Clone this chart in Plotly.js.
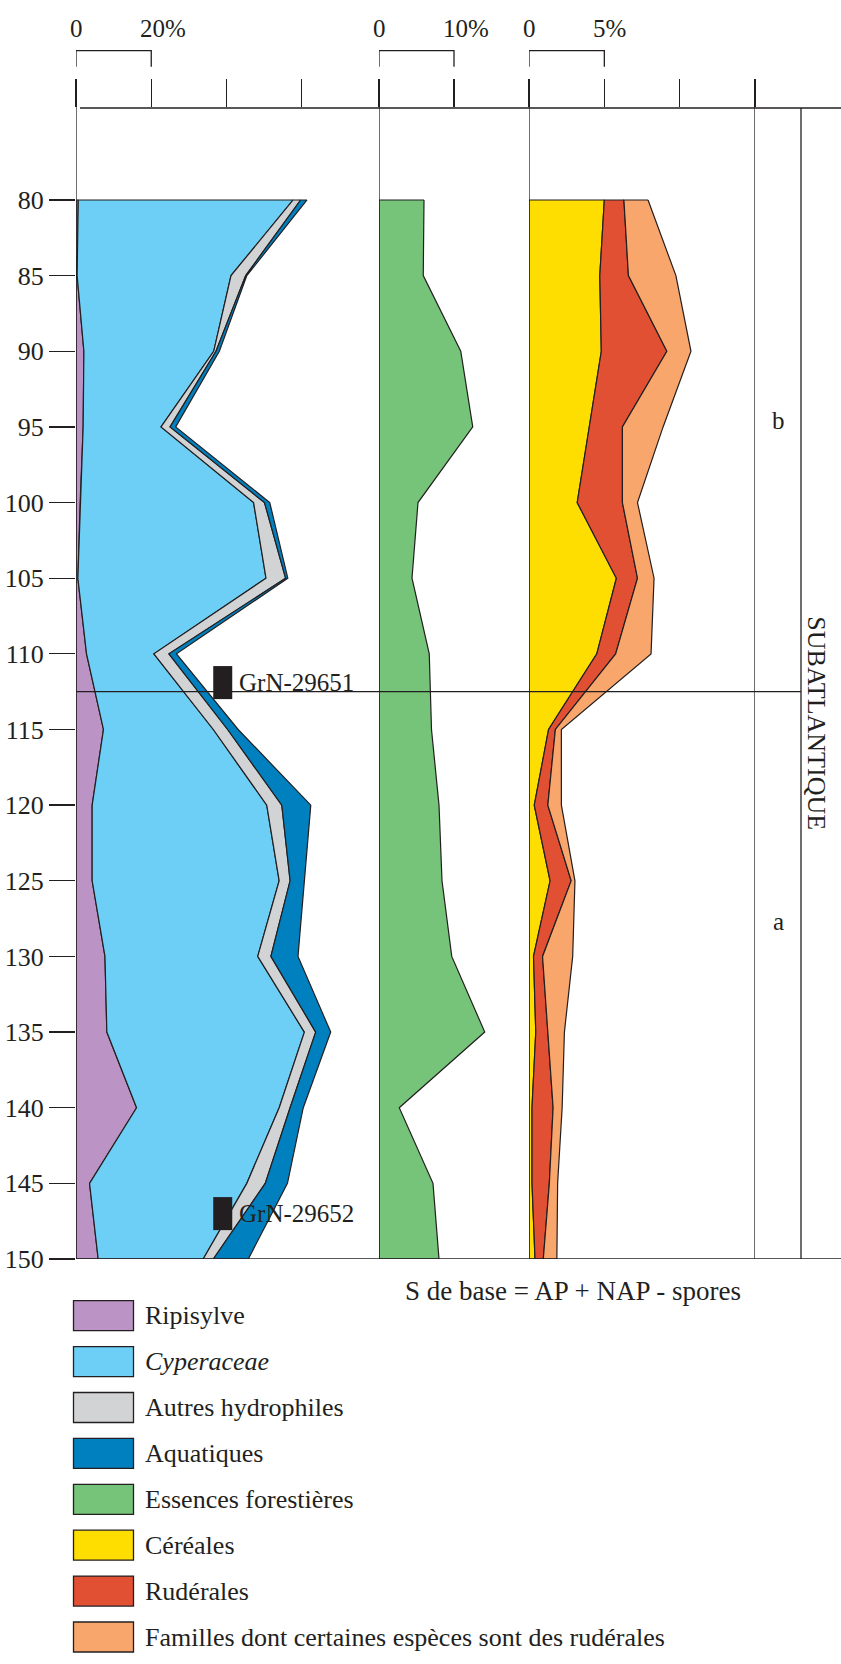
<!DOCTYPE html>
<html><head><meta charset="utf-8">
<script src="https://cdn.plot.ly/plotly-3.0.1.min.js"></script>
<style>html,body{margin:0;padding:0;background:#fff}#chart{width:841px;height:1664px}</style>
</head><body><div id="chart"></div>
<script>
// ---------- DATA ----------
const depths = [80,85,90,95,100,105,110,115,120,125,130,135,140,145,150];
// panel 1 (% of S de base)
const ripisylve         = [0.6,0.3,2.1,1.9,1.1,0.5,2.8,7.3,4.3,4.3,7.7,8.2,16.1,3.6,5.9];
const cyperaceae        = [57.1,40.9,34.5,20.7,46.1,50.0,17.9,29.2,46.4,49.7,40.6,52.5,37.9,41.8,27.9];
const autresHydrophiles = [2.0,3.9,0.6,2.4,2.9,5.2,4.0,3.8,4.0,2.9,3.5,3.0,2.9,4.9,2.7];
const aquatiques        = [1.7,0.3,0.9,1.5,1.4,0.6,2.0,2.8,7.7,3.7,7.2,4.0,3.5,5.9,9.3];
// panel 2
const essencesForestieres = [6.0,5.9,10.9,12.5,5.2,4.4,6.7,7.0,8.0,8.4,9.7,14.1,2.7,7.2,8.0];
// panel 3
const cereales  = [5.0,4.7,4.8,4.0,3.2,5.8,4.5,1.3,0.35,1.4,0.3,0.45,0.2,0.2,0.4];
const ruderales = [1.3,1.9,4.35,2.2,3.0,1.4,1.25,0.45,0.9,1.4,0.6,0.8,1.4,1.15,0.55];
const familles  = [1.6,3.15,1.6,2.7,1.0,1.1,2.35,0.4,0.9,0.25,2.0,1.1,0.6,0.55,0.9];

const seriesNames = ['Ripisylve','Cyperaceae','Autres hydrophiles','Aquatiques','Essences forestières','Céréales','Rudérales','Familles dont certaines espèces sont des rudérales'];
const seriesItalic = [false,true,false,false,false,false,false,false];
const seriesColors = ['#bb93c4','#6dcff6','#d1d3d4','#0080bf','#76c47a','#fedd00','#e25034','#f9a66c'];

const panelRanges = [80,20,15];
const panelTicks = [[0,20,40,60],[0,10],[0,5,10,15]];
const scaleMax = [20,10,5];
const scaleLabels = ['20%','10%','5%'];

const zoneBoundary = 112.5;
const zoneLabels = ['b','a'];
const zoneLabelDepths = [94.6,127.7];
const periodLabel = 'SUBATLANTIQUE';

const datingLabels = ['GrN-29651','GrN-29652'];
const datingDepths = [111.9,147.0];
const datingPct = [39.0,39.0];

const formulaText = 'S de base = AP + NAP - spores';

// ---------- BUILD ----------
const W=841,H=1664,T=108,B=1259;
const PX = x => x/W;
const PY = y => (B - y)/(B - T);
const INK = '#231f20';
const FONT = 'Liberation Serif, Times New Roman, serif';

function cumul(list){
  const out=[]; let acc=depths.map(()=>0);
  out.push(acc.slice());
  list.forEach(s=>{acc=acc.map((v,i)=>v+s[i]); out.push(acc.slice());});
  return out;
}
function band(xa,left,right,color,name){
  const x=right.concat(left.slice().reverse()); const y=depths.concat(depths.slice().reverse());
  x.push(x[0]); y.push(y[0]);
  return {type:'scatter',mode:'lines',xaxis:xa,yaxis:'y',x:x,y:y,fill:'toself',fillcolor:color,
    line:{color:INK,width:1.2},name:name,hoverinfo:'skip'};
}
const traces=[];
const c1=cumul([ripisylve,cyperaceae,autresHydrophiles,aquatiques]);
for(let i=0;i<4;i++) traces.push(band('x',c1[i],c1[i+1],seriesColors[i],seriesNames[i]));
const c2=cumul([essencesForestieres]);
traces.push(band('x2',c2[0],c2[1],seriesColors[4],seriesNames[4]));
const c3=cumul([cereales,ruderales,familles]);
for(let i=0;i<3;i++) traces.push(band('x3',c3[i],c3[i+1],seriesColors[5+i],seriesNames[5+i]));

traces.push({type:'scatter',mode:'markers',xaxis:'x',yaxis:'y',x:datingPct,y:datingDepths,
  marker:{symbol:'line-ns',size:23.6,color:INK,line:{width:19,color:INK}},hoverinfo:'skip'});

function xax(domain,range,ticks){
  return {domain:domain,range:[0,range],side:'top',anchor:'y',ticks:'outside',ticklen:28,tickwidth:1.3,
    tickcolor:INK,tickvals:ticks,showticklabels:false,showgrid:false,zeroline:false,showline:false,fixedrange:true,automargin:false};
}
const axNames=['x','x2','x3'];
const shapes=[];
const L = (o)=>Object.assign({type:'line',line:{color:INK,width:1.3},layer:'above'},o);
// top and bottom lines
shapes.push(L({xref:'paper',yref:'paper',x0:PX(80),x1:1,y0:1,y1:1}));
shapes.push(L({xref:'paper',yref:'y',x0:PX(76),x1:1,y0:150,y1:150}));
// panel zero lines
axNames.forEach(a=>shapes.push(L({xref:a,yref:'paper',x0:0,x1:0,y0:0,y1:PY(80)})));
shapes.push(L({xref:'x3',yref:'paper',x0:panelRanges[2],x1:panelRanges[2],y0:0,y1:PY(80)}));
shapes.push(L({xref:'paper',yref:'paper',x0:PX(801),x1:PX(801),y0:0,y1:1}));
// zone boundary
shapes.push(L({xref:'paper',yref:'y',x0:PX(76),x1:PX(801),y0:zoneBoundary,y1:zoneBoundary}));
// scale brackets
axNames.forEach((a,i)=>{
  shapes.push({type:'path',xref:a,yref:'paper',line:{color:INK,width:1.3},
    path:`M0,${PY(66.7)} L0,${PY(50.7)} L${scaleMax[i]},${PY(50.7)} L${scaleMax[i]},${PY(66.7)}`});
});
// legend swatches
const annotations=[];
seriesNames.forEach((n,i)=>{
  const cy=1315.7+i*45.9;
  shapes.push({type:'rect',xref:'paper',yref:'paper',x0:PX(73.5),x1:PX(133.5),y0:PY(cy-15),y1:PY(cy+15),
    fillcolor:seriesColors[i],line:{color:INK,width:1.3}});
  annotations.push({xref:'paper',yref:'paper',x:PX(142.5),y:PY(cy),xanchor:'left',yanchor:'middle',showarrow:false,
    text:seriesItalic[i]?'<i>'+n+'</i>':n,font:{size:26,family:FONT,color:INK}});
});
// scale labels
axNames.forEach((a,i)=>{
  annotations.push({xref:a,yref:'paper',x:0,y:PY(28.7),xanchor:'center',yanchor:'middle',showarrow:false,
    text:'0',font:{size:25,family:FONT,color:INK}});
  annotations.push({xref:a,yref:'paper',x:scaleMax[i],y:PY(28.7),xanchor:'left',xshift:-13,yanchor:'middle',showarrow:false,
    text:scaleLabels[i],font:{size:25,family:FONT,color:INK}});
});
// dating labels
datingLabels.forEach((t,i)=>annotations.push({xref:'x',yref:'y',x:datingPct[i],y:datingDepths[i],xanchor:'left',xshift:14,
  yanchor:'middle',showarrow:false,text:t,font:{size:25,family:FONT,color:INK}}));
// zones
zoneLabels.forEach((t,i)=>annotations.push({xref:'paper',yref:'y',x:PX(778),y:zoneLabelDepths[i],xanchor:'center',yanchor:'middle',
  showarrow:false,text:t,font:{size:25,family:FONT,color:INK}}));
annotations.push({xref:'paper',yref:'paper',x:PX(816.7),y:PY(723),xanchor:'center',yanchor:'middle',textangle:90,
  showarrow:false,text:periodLabel,font:{size:26,family:FONT,color:INK}});
annotations.push({xref:'paper',yref:'paper',x:PX(403),y:PY(1291),xanchor:'left',yanchor:'middle',
  showarrow:false,text:formulaText,font:{size:27,family:FONT,color:INK}});

const layout={
  width:W,height:H,margin:{l:0,r:0,t:T,b:H-B,pad:0},
  paper_bgcolor:'#ffffff',plot_bgcolor:'rgba(0,0,0,0)',showlegend:false,
  font:{family:FONT,color:INK,size:25},
  xaxis:xax([PX(76),PX(377)],panelRanges[0],panelTicks[0]),
  xaxis2:xax([PX(379),PX(529)],panelRanges[1],panelTicks[1]),
  xaxis3:xax([PX(529),PX(755)],panelRanges[2],panelTicks[2]),
  yaxis:{range:[150,73.92],anchor:'x',ticks:'outside',ticklen:26,tickwidth:1.3,tickcolor:INK,
    tickvals:depths,ticktext:depths.map(String),tickfont:{size:26,family:FONT,color:INK},
    showgrid:false,zeroline:false,showline:false,automargin:false,fixedrange:true},
  shapes:shapes,annotations:annotations
};
Plotly.newPlot('chart',traces,layout,{staticPlot:true,displayModeBar:false});
</script></body></html>
